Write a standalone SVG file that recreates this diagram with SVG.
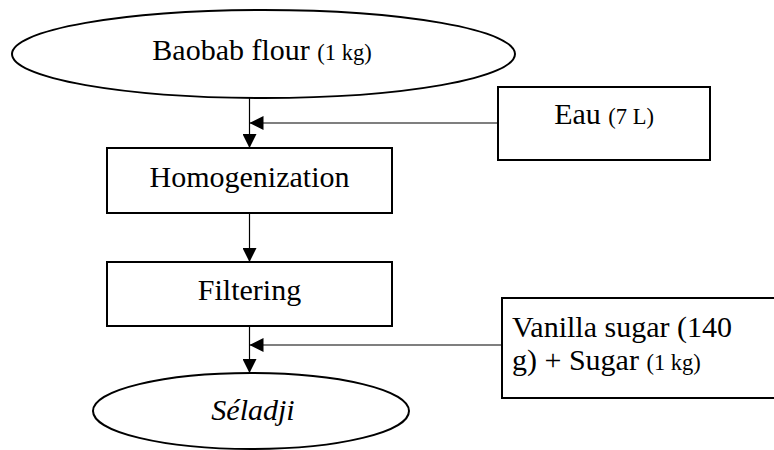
<svg xmlns="http://www.w3.org/2000/svg" width="774" height="450" viewBox="0 0 774 450">
  <defs>
    <marker id="arrow" markerUnits="userSpaceOnUse" markerWidth="14" markerHeight="14" viewBox="0 0 14 14" refX="14" refY="7" orient="auto">
      <path d="M0,0 L14,7 L0,14 Z" fill="#000"/>
    </marker>
    <style>
      .shape { fill: #fff; stroke: #000; stroke-width: 2; }
      .conn { fill: none; stroke: #000; stroke-width: 1.2; marker-end: url(#arrow); }
      .t { font-family: "Liberation Serif", "Times New Roman", serif; font-size: 30px; fill: #000; }
      .s { font-size: 22.5px; }
    </style>
  </defs>
  <rect width="774" height="450" fill="#fff"/>

  <g id="connectors">
    <line class="conn" x1="249.5" y1="98" x2="249.5" y2="148"/>
    <line class="conn" x1="498" y1="123" x2="249.5" y2="123"/>
    <line class="conn" x1="249.5" y1="213" x2="249.5" y2="262"/>
    <line class="conn" x1="249.5" y1="326" x2="249.5" y2="373"/>
    <line class="conn" x1="502" y1="345" x2="249.5" y2="345"/>
  </g>

  <g id="baobab">
    <ellipse class="shape" cx="263.5" cy="54" rx="251.5" ry="44"/>
    <text class="t" x="262" y="60" text-anchor="middle">Baobab flour <tspan class="s">(1 kg)</tspan></text>
  </g>

  <g id="eau">
    <rect class="shape" x="498" y="87" width="212" height="73"/>
    <text class="t" x="604" y="124" text-anchor="middle">Eau <tspan class="s">(7 L)</tspan></text>
  </g>

  <g id="homogenization">
    <rect class="shape" x="107" y="148" width="285" height="65"/>
    <text class="t" x="249.5" y="187" text-anchor="middle">Homogenization</text>
  </g>

  <g id="filtering">
    <rect class="shape" x="107" y="262" width="285" height="64"/>
    <text class="t" x="249.5" y="300" text-anchor="middle">Filtering</text>
  </g>

  <g id="sugar">
    <rect class="shape" x="502" y="298" width="280" height="100"/>
    <text class="t" x="512" y="337">Vanilla sugar (140</text>
    <text class="t" x="512" y="370">g) + Sugar <tspan class="s">(1 kg)</tspan></text>
  </g>

  <g id="seladji">
    <ellipse class="shape" cx="251" cy="411" rx="158" ry="38"/>
    <text class="t" x="253" y="420" text-anchor="middle" font-style="italic">Séladji</text>
  </g>
</svg>
